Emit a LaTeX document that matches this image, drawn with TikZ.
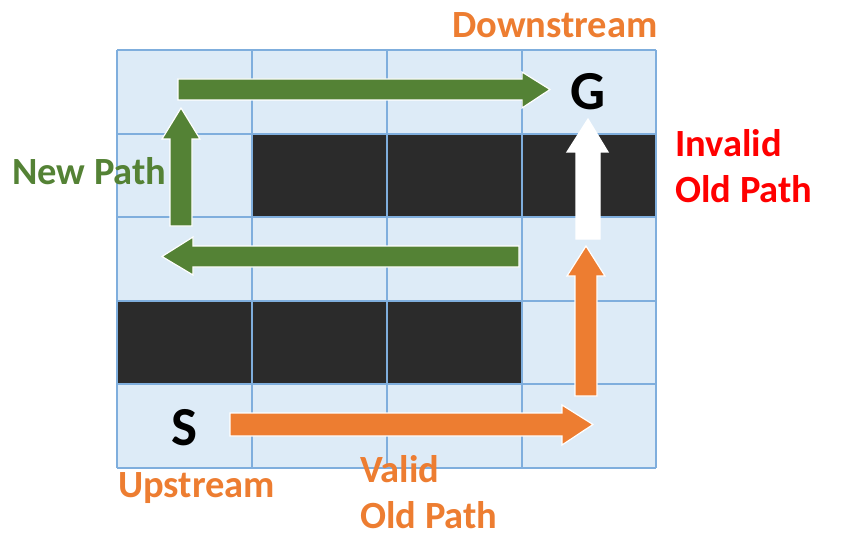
\documentclass[tikz,border=0pt]{standalone}
\usepackage{fontspec}
\setmainfont{Carlito}
\definecolor{cellfill}{HTML}{DDEBF7}
\definecolor{gridline}{HTML}{7FAEDD}
\definecolor{wall}{HTML}{2B2B2B}
\definecolor{pgreen}{HTML}{548235}
\definecolor{porange}{HTML}{ED7D31}
\definecolor{pred}{HTML}{FF0000}
\tikzset{
  lbl/.style={anchor=base west, inner sep=0pt, font=\fontsize{38.5}{46}\selectfont\bfseries, align=left},
  letter/.style={anchor=base, inner sep=0pt, font=\fontsize{55}{60}\selectfont\bfseries},
  blockarrow/.style={draw=white, line width=1.2pt, line join=miter},
  cellline/.style={draw=gridline, line width=1.2pt},
}
\begin{document}
\begin{tikzpicture}[x=1pt,y=-1pt]
\useasboundingbox (0,0) rectangle (848,540);
% grid
\fill[cellfill] (117,50) rectangle (656,468);
\fill[wall] (252,134) rectangle (656,217);
\fill[wall] (117,301) rectangle (522,384);
\foreach \x in {117,252,387,522,656} \draw[cellline] (\x,50) -- (\x,468);
\foreach \y in {50,134,217,301,384,468} \draw[cellline] (117,\y) -- (656,\y);
% arrows
\filldraw[blockarrow, fill=pgreen] (178,79) -- (522,79) -- (522,72) -- (550,89.5) -- (522,108) -- (522,100) -- (178,100) -- cycle;
\filldraw[blockarrow, fill=pgreen] (170,226) -- (170,139) -- (162,139) -- (181,108) -- (200,139) -- (192,139) -- (192,226) -- cycle;
\filldraw[blockarrow, fill=pgreen] (519,246) -- (193,246) -- (193,237) -- (162,256.5) -- (193,275) -- (193,267) -- (519,267) -- cycle;
\filldraw[blockarrow, fill=white] (576,239) -- (576,152) -- (567,152) -- (588,119) -- (608,152) -- (600,152) -- (600,239) -- cycle;
\filldraw[blockarrow, fill=porange] (575,396) -- (575,276) -- (567,276) -- (586,246) -- (605,276) -- (597,276) -- (597,396) -- cycle;
\filldraw[blockarrow, fill=porange] (230,413) -- (562,413) -- (562,405) -- (593,424.5) -- (562,445) -- (562,436) -- (230,436) -- cycle;
% labels
\node[letter] (G) at (588,110) {G};
\node[letter] (S) at (184,445) {S};
\node[lbl, text=porange] (down) at (452,38) {Downstream};
\node[lbl, text=porange] (up) at (118,497) {Upstream};
\node[lbl, text=pgreen] (new) at (12,185) {New Path};
\node[lbl, text=pred] (inv1) at (675,157) {Invalid};
\node[lbl, text=pred] (inv2) at (675,203) {Old Path};
\node[lbl, text=porange] (val1) at (360,482) {Valid};
\node[lbl, text=porange] (val2) at (360,528) {Old Path};
\end{tikzpicture}
\end{document}
